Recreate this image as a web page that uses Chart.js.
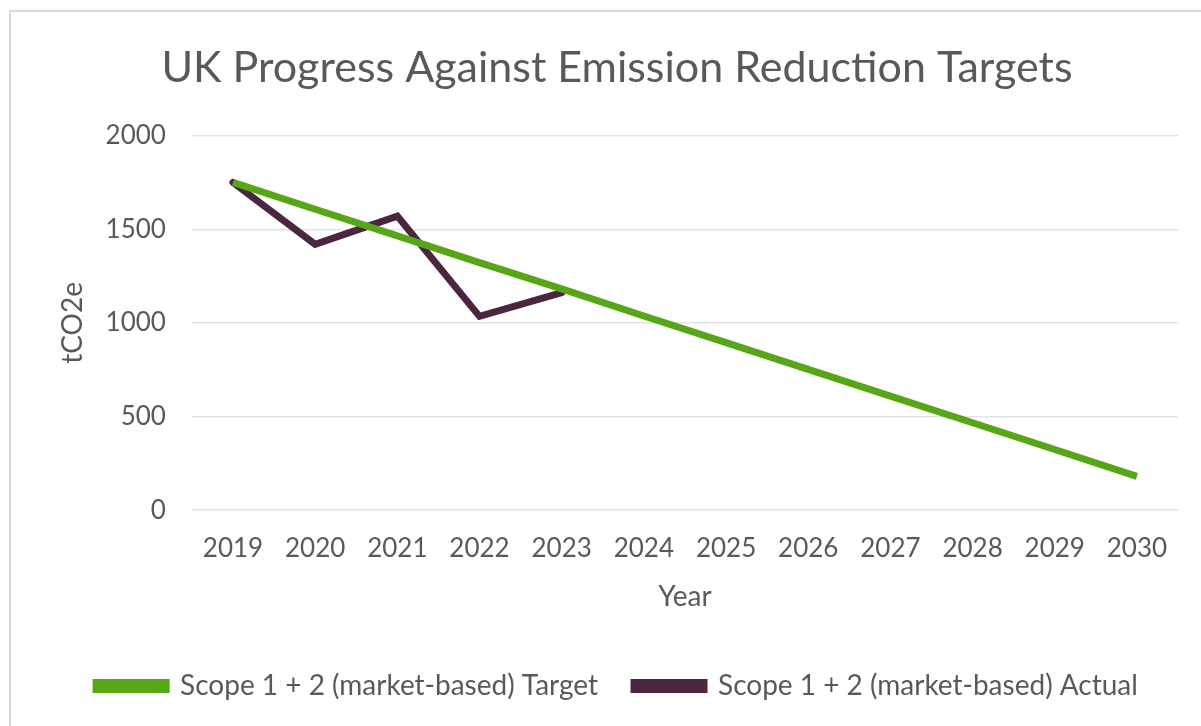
<!DOCTYPE html>
<html>
<head>
<meta charset="utf-8">
<script src="https://cdn.jsdelivr.net/npm/chart.js@4.4.0/dist/chart.umd.min.js"></script>
<style>
  html, body { margin: 0; padding: 0; background: #fff; overflow: hidden; }
  #frame {
    position: absolute; left: 9px; top: 10px; width: 1260px; height: 800px;
    border: 2px solid #d9d9d9; box-sizing: border-box;
  }
  #wrap { position: absolute; left: 0; top: 0; width: 1201px; height: 726px; }
</style>
</head>
<body>
<div id="frame"></div>
<div id="wrap"><canvas id="emissionsChart"></canvas></div>
<script>
const years = ['2019', '2020', '2021', '2022', '2023', '2024', '2025', '2026', '2027', '2028', '2029', '2030'];
const targetValues = [1750, 1607, 1465, 1322, 1182, 1037, 895, 752, 609, 467, 324, 181];
const actualValues = [1750, 1420, 1570, 1035, 1162, null, null, null, null, null, null, null];
const yTicks = [0, 500, 1000, 1500, 2000];

const textGrey = '#595959';
const green = '#57a617';
const purple = '#4b2641';

Chart.defaults.font.family = 'Lato, "Open Sans", sans-serif';
Chart.defaults.color = textGrey;

const ctx = document.getElementById('emissionsChart').getContext('2d');

new Chart(ctx, {
    type: 'line',
    data: {
        labels: years,
        datasets: [{
            label: 'Scope 1 + 2 (market-based) Target',
            data: targetValues,
            borderColor: green,
            backgroundColor: green,
            borderWidth: 7,
            pointRadius: 0,
            tension: 0
        }, {
            label: 'Scope 1 + 2 (market-based) Actual',
            data: actualValues,
            borderColor: purple,
            backgroundColor: purple,
            borderWidth: 7,
            pointRadius: 0,
            borderCapStyle: 'round',
            tension: 0,
            spanGaps: false
        }]
    },
    options: {
        responsive: true,
        maintainAspectRatio: false,
        animation: false,
        layout: { padding: { left: 56, right: 23, top: 0, bottom: 16 } },
        plugins: {
            title: {
                display: true,
                text: 'UK Progress Against Emission Reduction Targets',
                color: textGrey,
                font: { size: 43, weight: 'normal' },
                padding: { top: 42, bottom: 42 }
            },
            legend: {
                position: 'bottom',
                labels: {
                    boxWidth: 70,
                    boxHeight: 7,
                    color: textGrey,
                    font: { size: 28 },
                    padding: 36
                }
            },
            tooltip: { enabled: false }
        },
        scales: {
            x: {
                offset: true,
                grid: { display: false, drawTicks: false },
                border: { display: false },
                ticks: { font: { size: 26 }, color: textGrey, padding: 23, maxRotation: 0 },
                title: { display: true, text: 'Year', font: { size: 28 }, color: textGrey, padding: { top: -7, bottom: 22 } }
            },
            y: {
                min: 0,
                max: 2000,
                afterBuildTicks: (scale) => { scale.ticks = yTicks.map(v => ({ value: v })); },
                grid: { color: '#e3e3e3', lineWidth: 1.5, drawTicks: false },
                border: { display: false },
                ticks: { font: { size: 26 }, color: textGrey, padding: 26, callback: (v) => String(v) },
                title: { display: true, text: 'tCO2e', font: { size: 28 }, color: textGrey, padding: { top: 0, bottom: -10 } }
            }
        }
    }
});
</script>
</body>
</html>
